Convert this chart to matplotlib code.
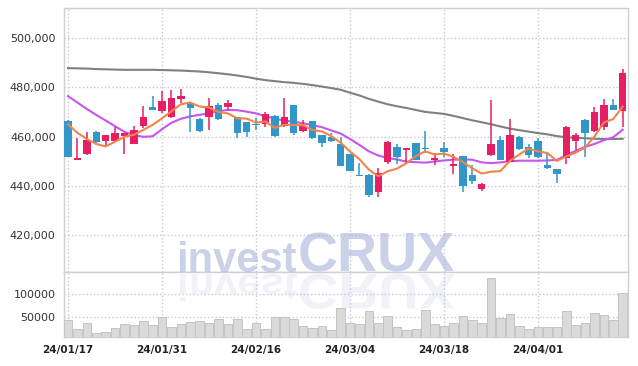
import numpy as np
import matplotlib.pyplot as plt
from matplotlib.textpath import TextPath
from matplotlib.patches import PathPatch
from matplotlib.font_manager import FontProperties
from matplotlib.transforms import Affine2D
from matplotlib.ticker import FuncFormatter

# daily candles, 60 trading days (24/01/17 .. 24/04/15)
opens = [466400, 450600, 452900, 461700, 458300, 458300, 460300, 457100, 464400, 472000,
         470500, 468000, 475200, 473500, 467100, 467800, 472800, 471900, 467800, 465800,
         465100, 465000, 468300, 464300, 472800, 462400, 466300, 460600, 459900, 457000,
         452900, 444500, 444400, 437600, 449500, 455600, 454500, 457200, 455300, 450600,
         455200, 448100, 452100, 444400, 438600, 452500, 458600, 449800, 459700, 455600,
         458300, 448400, 446800, 451100, 458300, 466700, 462200, 463700, 472800, 470500]
highs = [466800, 459300, 461700, 462400, 460800, 464000, 461500, 464400, 472500, 476600,
         478500, 478900, 479300, 474100, 467400, 475500, 473500, 474800, 468000, 466000,
         467400, 469800, 468700, 475500, 473000, 466700, 466500, 460800, 461500, 459900,
         453100, 449100, 444600, 447100, 458300, 457000, 455300, 457300, 462400, 453200,
         457900, 452800, 452300, 448400, 441000, 474800, 460300, 467100, 460300, 456800,
         459300, 453200, 447000, 464300, 461300, 467000, 472100, 475100, 475100, 487300]
lows = [451500, 450300, 452500, 457200, 455600, 457600, 452900, 456900, 463300, 470600,
        469400, 467400, 473500, 461900, 461900, 462600, 466800, 470800, 459300, 459900,
        462600, 464000, 459700, 463700, 460600, 461700, 459100, 455600, 457600, 447900,
        445900, 444000, 435600, 435600, 448700, 448800, 449100, 450300, 453200, 448400,
        451800, 444800, 437600, 440700, 438000, 452300, 450300, 449600, 454500, 451100,
        451400, 447000, 441200, 448800, 454500, 451600, 462000, 462600, 470600, 464000]
closes = [451800, 451400, 458600, 457600, 460600, 461300, 461300, 462600, 467800, 470600,
          474500, 475800, 476600, 471700, 462400, 472400, 467000, 473700, 461300, 461900,
          464700, 469100, 460300, 467800, 461500, 464300, 459500, 457500, 458300, 448100,
          446100, 444100, 436200, 445100, 457900, 451600, 455200, 450500, 454800, 451300,
          453600, 448800, 440000, 442000, 440700, 456800, 450500, 460600, 454900, 452500,
          451600, 447100, 444600, 463700, 460600, 461500, 469800, 472800, 470800, 485900]
volumes = [42600, 21900, 35300, 12900, 15800, 24100, 33000, 31500, 39700, 31500,
           48700, 26300, 33000, 37500, 39700, 35900, 44200, 33000, 44200, 21900,
           35300, 21900, 48700, 48700, 44200, 28600, 24800, 29200, 20300, 68700,
           35300, 33700, 62700, 35300, 50900, 26300, 20300, 21900, 64300, 33000,
           29200, 35300, 50900, 42000, 35900, 136400, 46400, 56000, 28600, 21900,
           26300, 26300, 26300, 62700, 31500, 35900, 58300, 53800, 42600, 102900]

# moving averages as drawn (5, 20, 60 days)
ma5 = [465000, 461500, 459000, 457000, 456000, 457900, 459900, 460700, 462700, 464700,
       467400, 470300, 473100, 473800, 472200, 471800, 470000, 469400, 467400, 467300,
       465700, 466100, 463500, 464800, 464700, 464600, 462700, 462100, 460200, 457500,
       453900, 450800, 446600, 443900, 445900, 447000, 449200, 452100, 454000, 452700,
       453100, 451800, 449700, 447100, 445000, 445700, 446000, 450100, 452700, 455100,
       454000, 453300, 450100, 451900, 453500, 455500, 460000, 465700, 467100, 472200]
ma20 = [476400, 473800, 471200, 468800, 466500, 464200, 461900, 460600, 459900, 460100,
        463000, 465600, 467200, 468200, 468800, 469500, 470300, 470800, 470700, 470100,
        469400, 468300, 467200, 466500, 466000, 465400, 464600, 463800, 462500, 461200,
        459000, 456600, 454000, 452300, 451300, 450700, 449800, 449600, 449400, 449900,
        450300, 450600, 450700, 450600, 449500, 449200, 449500, 450000, 450200, 450200,
        450200, 450300, 450500, 452500, 454200, 455800, 457000, 458500, 459700, 462800]
ma60 = [487800, 487700, 487600, 487400, 487300, 487200, 487100, 487100, 487100, 487100,
        487000, 486900, 486800, 486600, 486400, 486100, 485700, 485300, 484800, 484200,
        483500, 482900, 482500, 482100, 481800, 481400, 480900, 480300, 479700, 479000,
        477800, 476700, 475300, 474200, 473100, 472300, 471600, 470800, 470000, 469600,
        469200, 468400, 467500, 466600, 465800, 465000, 464100, 463200, 462600, 462000,
        461400, 460900, 460200, 459700, 459500, 459300, 459100, 459000, 459000, 459100]

tick_pos = [0, 10, 20, 30, 40, 50]
tick_labels = ['24/01/17', '24/01/31', '24/02/16', '24/03/04', '24/03/18', '24/04/01']

UP = '#e61e64'
DOWN = '#3097c8'
GRID = '#c8c8dc'
EDGE = '#d0d0d0'

x = np.arange(len(closes))
o = np.array(opens); c = np.array(closes)
cols = [UP if cc >= oo else DOWN for oo, cc in zip(o, c)]

fig = plt.figure(figsize=(6.38, 3.66), dpi=100)
ax = fig.add_axes([64/638, 94/366, 564/638, 264/366])
axv = fig.add_axes([64/638, 29/366, 564/638, 65/366], sharex=ax)

# candles
ax.vlines(x, lows, highs, colors=cols, linewidth=1.1, zorder=3)
body = np.maximum(np.abs(c - o), 350)
ax.bar(x, body, bottom=np.minimum(o, c), width=0.78, color=cols, linewidth=0, zorder=4)

ax.plot(x, ma60, color='#808080', lw=1.5, zorder=2)
ax.plot(x, ma20, color='#c855ee', lw=1.5, zorder=2)
ax.plot(x, ma5, color='#f0844a', lw=1.5, zorder=5)

ax.set_xlim(-0.43, 59.57)
ax.set_ylim(405000, 512200)
ax.set_yticks([420000, 440000, 460000, 480000, 500000])
ax.yaxis.set_major_formatter(FuncFormatter(lambda v, p: f'{int(v):,}'))
ax.set_xticks(tick_pos)
ax.tick_params(axis='x', labelbottom=False, length=0)
ax.tick_params(axis='y', length=0, pad=6, labelsize=8, labelcolor='#333333')
ax.grid(True, color=GRID, linestyle=':', linewidth=1)

# volume
axv.bar(x, volumes, width=0.92, color='#dadada', edgecolor='#c4c4c4', linewidth=0.7, zorder=3)
axv.set_ylim(5000, 150000)
axv.set_yticks([50000, 100000])
axv.set_xticks(tick_pos)
axv.set_xticklabels(tick_labels)
axv.tick_params(axis='x', length=0, pad=6, labelsize=7.5, labelcolor='#222222')
axv.tick_params(axis='y', length=0, pad=6, labelsize=8, labelcolor='#333333')
axv.grid(True, color=GRID, linestyle=':', linewidth=1)
for lab in axv.get_xticklabels():
    lab.set_fontweight('bold')

for a in (ax, axv):
    a.set_axisbelow(True)
    for s in a.spines.values():
        s.set_color(EDGE)
        s.set_linewidth(1)

# watermark with reflection
wm = '#aab6da'
fig.text(297/638, 94/366, 'invest', ha='right', va='baseline', fontsize=30,
         family='Liberation Sans', fontweight='bold', color=wm, alpha=0.62, zorder=10)
fig.text(298/638, 94/366, 'CRUX', ha='left', va='baseline', fontsize=40,
         family='Liberation Sans', fontweight='bold', color=wm, alpha=0.62, zorder=10)
fp_b = FontProperties(family='Liberation Sans', weight='bold')
p1 = TextPath((0, 0), 'invest', size=30 * 100 / 72, prop=fp_b)
p2 = TextPath((0, 0), 'CRUX', size=40 * 100 / 72, prop=fp_b)
w1 = p1.get_extents().x1
for path, x0 in ((p1, 297 - w1), (p2, 298)):
    patch = PathPatch(path, facecolor=wm, edgecolor='none', alpha=0.17,
                      transform=Affine2D().scale(1, -0.9).translate(x0, 94 - 2), zorder=10)
    fig.add_artist(patch)

fig.savefig('out.png', dpi=100)
